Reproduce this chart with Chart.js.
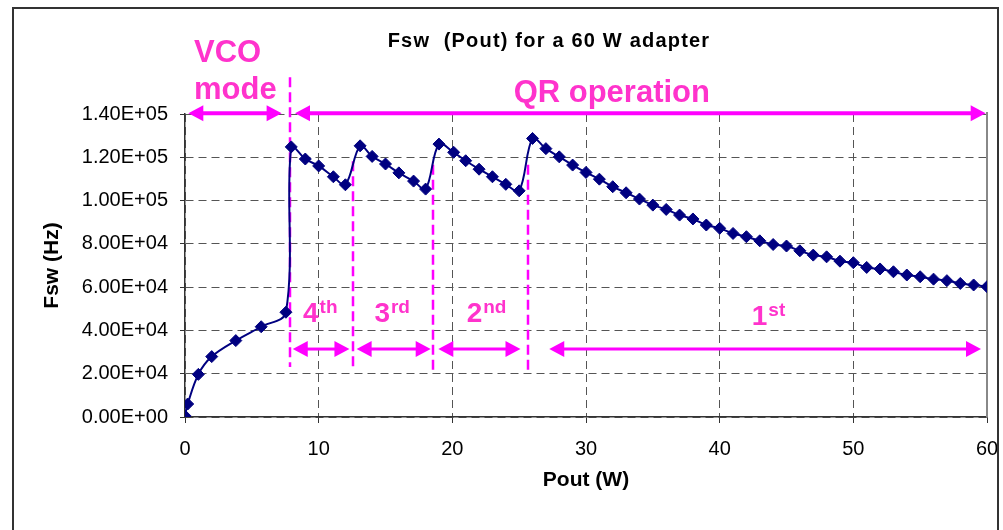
<!DOCTYPE html>
<html>
<head>
<meta charset="utf-8">
<title>Fsw (Pout) for a 60 W adapter</title>
<script src="https://cdn.jsdelivr.net/npm/chart.js@4.4.1/dist/chart.umd.min.js"></script>
<style>
  html, body { margin: 0; padding: 0; background: #fff; }
  #wrap { width: 1003px; height: 530px; }
</style>
</head>
<body>
<div id="wrap"><canvas id="fswChart" width="1003" height="530"></canvas></div>
<script>
  "use strict";

  // Pout (W) and switching frequency (Hz)
  const pout = [
    0, 0.2, 1, 2, 3.8, 5.7, 7.55,
    7.95, 9, 10, 11.1, 12,
    13.1, 14, 15, 16, 17.1, 18,
    19, 20.1, 21, 22, 23, 24, 25,
    26, 27, 28, 29, 30, 31, 32, 33, 34, 35, 36, 37, 38, 39, 40, 41, 42, 43,
    44, 45, 46, 47, 48, 49, 50, 51, 52, 53, 54, 55, 56, 57, 58, 59, 60,
  ];
  const fsw = [
    500, 6000, 19700, 27900, 35300, 41700, 48400,
    124800, 119200, 116000, 111000, 107300,
    125300, 120400, 116900, 112800, 109000, 105300,
    126100, 122300, 118400, 114500, 111000, 107500, 104500,
    128700, 124000, 120200, 116400, 113000, 109900, 106400, 103600, 100700,
    97900, 95900, 93300, 91500, 88700, 87200, 84800, 83300, 81400,
    79700, 79000, 76800, 74800, 74000, 72000, 71300, 69100, 68400, 67100,
    65600, 64800, 63700, 63000, 61700, 61000, 60200,
  ];

  const xTicks = [0, 10, 20, 30, 40, 50, 60];
  const yTicks = [0, 20000, 40000, 60000, 80000, 100000, 120000, 140000];

  // mode boundaries (dashed magenta lines), in W / Hz
  const dividerX = [7.82, 12.57, 18.53, 25.63];
  const dividerTop = [157000, 118200, 116500, 116500];
  const dividerBottom = [23100, 22000, 21500, 21500];

  // arrows: VCO / QR on top, valleys below
  const modeSpans = [[0.25, 7.23], [8.23, 59.9]];
  const modeArrowY = 140300;
  const valleySpans = [[8.06, 12.3], [12.84, 18.38], [18.95, 25.1], [27.25, 59.55]];
  const valleyArrowY = 31400;
  const valleyNames = [["4", "th"], ["3", "rd"], ["2", "nd"], ["1", "st"]];
  const valleyLabelX = [8.83, 14.17, 21.07, 42.4];
  const valleyLabelY = [43900, 43900, 43900, 42500];

  const FONT = "'Liberation Sans', Arial, sans-serif";
  const PINK = "#ff33cc";
  const MAGENTA = "#ff00ff";

  const sci = (v) => {
    if (v === 0) return "0.00E+00";
    const e = Math.floor(Math.log10(Math.abs(v)));
    const m = v / Math.pow(10, e);
    return m.toFixed(2) + "E" + (e < 0 ? "-" : "+") + String(Math.abs(e)).padStart(2, "0");
  };

  const arrow = (ctx, x1, x2, y, lw) => {
    const head = 15, half = 8;
    ctx.save();
    ctx.strokeStyle = MAGENTA;
    ctx.fillStyle = MAGENTA;
    ctx.lineWidth = lw;
    ctx.beginPath();
    ctx.moveTo(x1 + head - 2, y);
    ctx.lineTo(x2 - head + 2, y);
    ctx.stroke();
    ctx.beginPath();
    ctx.moveTo(x1, y);
    ctx.lineTo(x1 + head, y - half);
    ctx.lineTo(x1 + head, y + half);
    ctx.closePath();
    ctx.fill();
    ctx.beginPath();
    ctx.moveTo(x2, y);
    ctx.lineTo(x2 - head, y - half);
    ctx.lineTo(x2 - head, y + half);
    ctx.closePath();
    ctx.fill();
    ctx.restore();
  };

  const annotations = {
    id: "annotations",
    beforeDatasetsDraw(chart) {
      const { ctx, scales: { x, y }, chartArea } = chart;

      // solid right edge of the plot area
      ctx.save();
      ctx.strokeStyle = "#888";
      ctx.lineWidth = 2;
      ctx.beginPath();
      ctx.moveTo(chartArea.right, chartArea.top - 2);
      ctx.lineTo(chartArea.right, chartArea.bottom);
      ctx.stroke();
      ctx.restore();

      // dashed boundaries
      ctx.save();
      ctx.strokeStyle = MAGENTA;
      ctx.lineWidth = 2.5;
      ctx.setLineDash([10, 5]);
      dividerX.forEach((v, i) => {
        const px = Math.round(x.getPixelForValue(v));
        ctx.beginPath();
        ctx.moveTo(px, y.getPixelForValue(dividerTop[i]));
        ctx.lineTo(px, y.getPixelForValue(dividerBottom[i]));
        ctx.stroke();
      });
      ctx.restore();

      modeSpans.forEach(([a, b]) =>
        arrow(ctx, x.getPixelForValue(a), x.getPixelForValue(b), y.getPixelForValue(modeArrowY), 4));
      valleySpans.forEach(([a, b]) =>
        arrow(ctx, x.getPixelForValue(a), x.getPixelForValue(b), y.getPixelForValue(valleyArrowY), 3));

      ctx.save();
      ctx.fillStyle = PINK;
      ctx.textBaseline = "alphabetic";
      ctx.font = "bold 31px " + FONT;
      ctx.textAlign = "left";
      ctx.fillText("VCO", x.getPixelForValue(0.67), y.getPixelForValue(164000));
      ctx.fillText("mode", x.getPixelForValue(0.67), y.getPixelForValue(146900));
      ctx.textAlign = "center";
      ctx.fillText("QR operation", x.getPixelForValue(31.93), y.getPixelForValue(145600));
      ctx.textAlign = "left";
      valleyNames.forEach(([num, sup], i) => {
        const px = x.getPixelForValue(valleyLabelX[i]);
        const py = y.getPixelForValue(valleyLabelY[i]);
        ctx.font = "bold 28px " + FONT;
        ctx.fillText(num, px, py);
        const w = ctx.measureText(num).width;
        ctx.font = "bold 19px " + FONT;
        ctx.fillText(sup, px + w + 1, py - 9);
      });
      ctx.restore();
    },
    afterDraw(chart) {
      const { ctx } = chart;
      ctx.save();
      // chart title
      ctx.fillStyle = "#000";
      ctx.font = "bold 20px " + FONT;
      ctx.textAlign = "center";
      ctx.textBaseline = "middle";
      ctx.letterSpacing = "1.2px";
      ctx.fillText("Fsw  (Pout) for a 60 W adapter", 549, 41);
      ctx.letterSpacing = "0px";
      // outer frame
      ctx.strokeStyle = "#333";
      ctx.lineWidth = 2;
      ctx.strokeRect(13, 8, 985, 540);
      ctx.restore();
    },
  };

  const ctx = document.getElementById("fswChart").getContext("2d");
  const chart = new Chart(ctx, {
    type: "scatter",
    data: {
      datasets: [
        {
          label: "Fsw",
          data: pout.map((p, i) => ({ x: p, y: fsw[i] })),
          showLine: true,
          tension: 0.35,
          borderColor: "#000080",
          backgroundColor: "#000080",
          borderWidth: 2,
          pointStyle: "rectRot",
          pointRadius: 6,
          pointHoverRadius: 6,
          pointBorderWidth: 1,
          pointBorderColor: "#000080",
        },
      ],
    },
    options: {
      responsive: false,
      animation: false,
      devicePixelRatio: 1,
      layout: { padding: { left: 14, right: 16, top: 114, bottom: 0 } },
      plugins: {
        legend: { display: false },
        tooltip: { enabled: false },
        title: { display: false },
      },
      scales: {
        x: {
          type: "linear",
          min: 0,
          max: 60,
          afterBuildTicks: (s) => { s.ticks = xTicks.map((v) => ({ value: v })); },
          afterFit: (s) => {
            s.height = 113;
            s.paddingLeft = 0;
            s.paddingRight = 0;
          },
          grid: { color: "#555", lineWidth: 1, tickLength: 6, tickColor: "#333" },
          border: { color: "#333", width: 1.5, dash: [8, 5] },
          ticks: { color: "#000", padding: 14, font: { family: FONT, size: 20 } },
          title: {
            display: true,
            text: "Pout (W)",
            color: "#000",
            font: { family: FONT, size: 21, weight: "bold" },
            padding: { top: 0, bottom: 37 },
          },
        },
        y: {
          min: 0,
          max: 140000,
          afterBuildTicks: (s) => { s.ticks = yTicks.map((v) => ({ value: v })); },
          afterFit: (s) => { s.width = 171; },
          grid: { color: "#555", lineWidth: 1, tickLength: 5, tickColor: "#333" },
          border: { color: "#333", width: 1.5, dash: [8, 5] },
          ticks: {
            color: "#000",
            padding: 12,
            font: { family: FONT, size: 20 },
            callback: (v) => sci(v),
          },
          title: {
            display: true,
            text: "Fsw (Hz)",
            color: "#000",
            font: { family: FONT, size: 21, weight: "bold" },
            padding: { top: 26, bottom: 0 },
          },
        },
      },
    },
    plugins: [annotations],
  });
</script>
</body>
</html>
